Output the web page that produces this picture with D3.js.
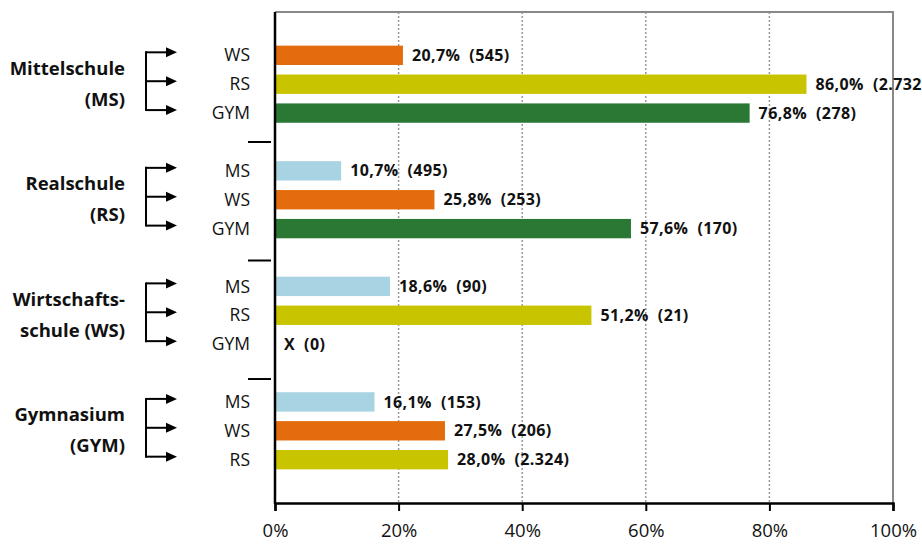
<!DOCTYPE html>
<html><head><meta charset="utf-8">
<script src="https://cdn.jsdelivr.net/npm/d3@7"></script>
<style>
body{margin:0;background:#fff;}
svg{display:block;font-family:"Open Sans",sans-serif;}
</style></head>
<body>
<svg id="chart" width="922" height="544"></svg>
<script>
// ---- data ----
const groups = ["Mittelschule|(MS)", "Realschule|(RS)", "Wirtschafts-|schule (WS)", "Gymnasium|(GYM)"];
const targets = [["WS","RS","GYM"],["MS","WS","GYM"],["MS","RS","GYM"],["MS","WS","RS"]];
const values = [[20.7, 86.0, 76.8],[10.7, 25.8, 57.6],[18.6, 51.2, null],[16.1, 27.5, 28.0]];
const counts = [["545","2.732","278"],["495","253","170"],["90","21","0"],["153","206","2.324"]];
const xTicks = [0, 20, 40, 60, 80, 100];
const colors = {MS:"#a7d3e2", WS:"#e36c0c", RS:"#c9c400", GYM:"#2a7833"};

(function(){
const svg = d3.select("#chart");
const L = 275, R = 893, T = 12, B = 503;
const x = d3.scaleLinear().domain([0,100]).range([L,R]);
// 17 slots: one empty at top, 3 bars per group, separator slot between groups, empty at bottom
const y = d3.scaleBand().domain(d3.range(17)).range([T,B]).paddingInner(0.33).paddingOuter(0.165);
const slot = (g,j) => 1 + g*4 + j;
const yc = n => y(n) + y.bandwidth()/2;

const rows = [];
groups.forEach((g,gi)=>targets[gi].forEach((t,j)=>rows.push({g:gi,j,t,v:values[gi][j],c:counts[gi][j]})));

// grid
svg.append("g").selectAll("line").data(xTicks.filter(d=>d>0&&d<100)).join("line")
  .attr("x1",d=>x(d)).attr("x2",d=>x(d)).attr("y1",T).attr("y2",B)
  .attr("stroke","#999").attr("stroke-width",1.5).attr("stroke-dasharray","2,2");
// frame top/right
svg.append("path").attr("d",`M${L},${T}H${R}V${B}`).attr("fill","none").attr("stroke","#888").attr("stroke-width",2);

// bars
svg.append("g").selectAll("rect").data(rows.filter(r=>r.v!=null)).join("rect")
  .attr("x",x(0)).attr("y",r=>y(slot(r.g,r.j))).attr("height",y.bandwidth())
  .attr("width",r=>x(r.v)-x(0)).attr("fill",r=>colors[r.t]);

// value labels
const fmt = v => v.toFixed(1).replace(".",",") + "%";
const vl = svg.append("g").selectAll("text").data(rows).join("text")
  .attr("x",r=>(r.v==null?x(0):x(r.v))+9).attr("y",r=>yc(slot(r.g,r.j)))
  .attr("dy","0.35em").attr("font-size",16).attr("font-weight",700).attr("fill","#111")
  .attr("letter-spacing",0.4);
vl.append("tspan").text(r=>r.v==null?"X":fmt(r.v));
vl.append("tspan").attr("dx",9).text(r=>"("+r.c+")");

// axes
const xAxis = d3.axisBottom(x).tickValues(xTicks).tickFormat(d=>d+"%").tickSize(8).tickPadding(13);
const gx = svg.append("g").attr("transform",`translate(0,${B})`).call(xAxis);
gx.select(".domain").attr("stroke","#000").attr("stroke-width",2.5);
gx.selectAll(".tick line").attr("stroke","#000").attr("stroke-width",2);
gx.selectAll(".tick text").attr("font-size",18.5).attr("fill","#111").attr("font-family","Open Sans, sans-serif");
svg.append("line").attr("x1",L).attr("x2",L).attr("y1",T).attr("y2",B+1).attr("stroke","#000").attr("stroke-width",2.5);

// category labels
svg.append("g").selectAll("text").data(rows).join("text")
  .attr("x",250).attr("y",r=>yc(slot(r.g,r.j))).attr("dy","0.35em").attr("text-anchor","end")
  .attr("font-size",17.5).attr("fill","#111").text(r=>r.t);

// separators
svg.append("g").selectAll("line").data([1,2,3]).join("line")
  .attr("x1",248).attr("x2",271).attr("y1",d=>yc(d*4)+(d-1)*3).attr("y2",d=>yc(d*4)+(d-1)*3)
  .attr("stroke","#000").attr("stroke-width",2);

// group labels and brackets
groups.forEach((g,gi)=>{
  const c = yc(slot(gi,1));
  const lines = g.split("|");
  svg.append("text").attr("x",125).attr("y",c-16).attr("dy","0.35em").attr("text-anchor","end")
    .attr("font-size",18.5).attr("font-weight",700).attr("fill","#111").text(lines[0]);
  svg.append("text").attr("x",125).attr("y",c+15).attr("dy","0.35em").attr("text-anchor","end")
    .attr("font-size",18.5).attr("font-weight",700).attr("fill","#111").text(lines[1]);
  const ys = [0,1,2].map(j=>yc(slot(gi,j))-3);
  const br = svg.append("g");
  br.append("line").attr("x1",146).attr("x2",146).attr("y1",ys[0]-1).attr("y2",ys[2]+1).attr("stroke","#000").attr("stroke-width",2);
  ys.forEach(yy=>{
    br.append("line").attr("x1",146).attr("x2",168).attr("y1",yy).attr("y2",yy).attr("stroke","#000").attr("stroke-width",2);
    br.append("path").attr("d",`M166,${yy-5}L177,${yy}L166,${yy+5}Z`).attr("fill","#000");
  });
});
})();
</script>
</body></html>
